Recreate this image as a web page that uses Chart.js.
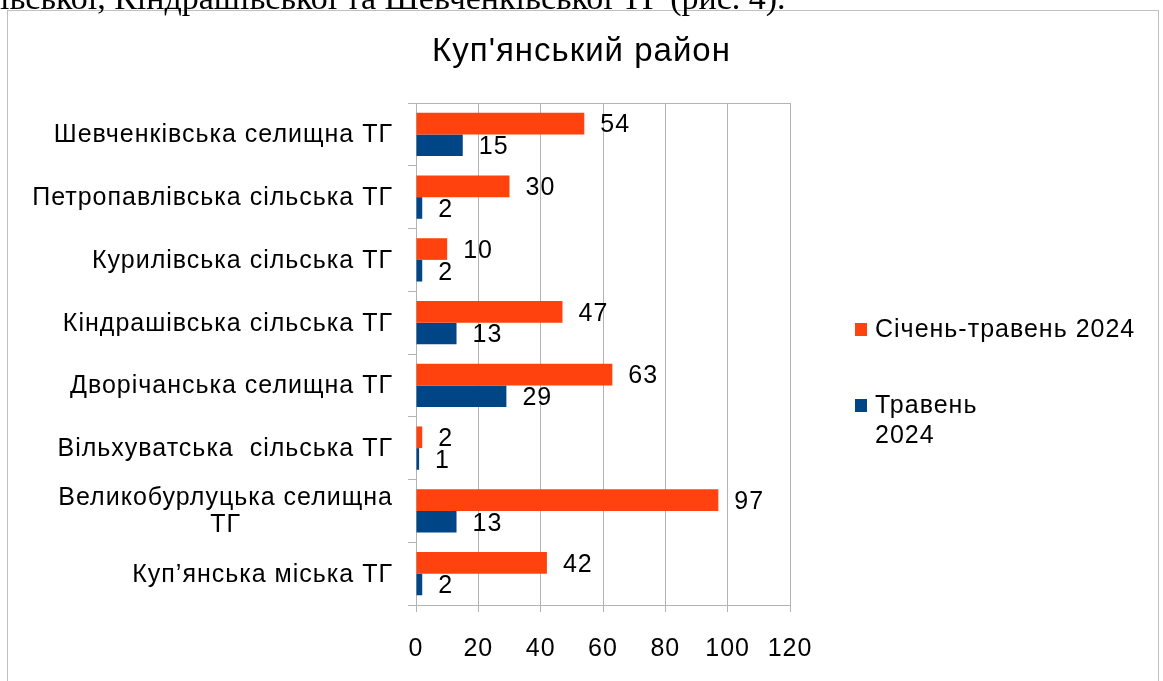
<!DOCTYPE html>
<html><head><meta charset="utf-8">
<script src="https://cdn.jsdelivr.net/npm/chart.js@4.4.1/dist/chart.umd.min.js"></script>
<style>
html,body{margin:0;padding:0;background:#fff;overflow:hidden;width:1163px;height:681px}
#top{position:absolute;left:0;top:-19px;font-family:"Liberation Serif","Times New Roman",serif;font-size:34px;line-height:34px;white-space:nowrap;color:#000;z-index:3}
#box{position:absolute;left:7px;top:10px;width:1150px;height:720px;border:1px solid #c0c0c0;background:#fff;z-index:1}
#wrap{position:absolute;left:0;top:0;width:1163px;height:681px;z-index:2}
</style></head><body>
<div id="top">івської, Кіндрашівської та Шевченківської ТГ (рис. 4).</div>
<div id="box"></div>
<div id="wrap"><canvas id="c" width="1163" height="681"></canvas></div>
<script>
// ---- data ----
const categories = [
  'Шевченківська селищна ТГ',
  'Петропавлівська сільська ТГ',
  'Курилівська сільська ТГ',
  'Кіндрашівська сільська ТГ',
  'Дворічанська селищна ТГ',
  'Вільхуватська  сільська ТГ',
  ['Великобурлуцька селищна', 'ТГ'],
  'Куп’янська міська ТГ'
];
const seriesJanMay = [54, 30, 10, 47, 63, 2, 97, 42];
const seriesMay = [15, 2, 2, 13, 29, 1, 13, 2];
const seriesNames = ['Січень-травень 2024', 'Травень\n2024'];
const xTickValues = [0, 20, 40, 60, 80, 100, 120];
const chartTitle = "Куп'янський район";

// ---- styles ----
const FONT = '"Liberation Sans", Arial, sans-serif';
const GRID = '#b3b3b3';
const COLORS = ['#ff420e', '#004586'];
const FS = 25;

const spacing = {
  id: 'spacing',
  beforeDraw(chart) { chart.ctx.letterSpacing = '1px'; }
};

const valueLabels = {
  id: 'valueLabels',
  afterDatasetsDraw(chart) {
    const ctx = chart.ctx;
    ctx.save();
    ctx.font = FS + 'px ' + FONT;
    ctx.fillStyle = '#000';
    ctx.textAlign = 'left';
    ctx.textBaseline = 'middle';
    chart.data.datasets.forEach((ds, di) => {
      const meta = chart.getDatasetMeta(di);
      meta.data.forEach((el, i) => {
        ctx.fillText(String(ds.data[i]), el.x + 16, el.y + 2);
      });
    });
    ctx.restore();
  }
};

const categoryLabels = {
  id: 'categoryLabels',
  afterDraw(chart) {
    const ctx = chart.ctx;
    const ys = chart.scales.y;
    const right = ys.right - 23;
    const lh = 27;
    ctx.save();
    ctx.font = FS + 'px ' + FONT;
    ctx.fillStyle = '#000';
    ctx.textBaseline = 'middle';
    ctx.textAlign = 'center';
    chart.data.labels.forEach((lab, i) => {
      const lines = Array.isArray(lab) ? lab : [lab];
      const w = Math.max(...lines.map(l => ctx.measureText(l).width));
      const cy = ys.getPixelForTick(i) + 1;
      lines.forEach((l, j) => {
        ctx.fillText(l, right - w / 2, cy + (j - (lines.length - 1) / 2) * lh);
      });
    });
    ctx.restore();
  }
};

const sideLegend = {
  id: 'sideLegend',
  afterDraw(chart) {
    const ctx = chart.ctx;
    const x0 = chart.chartArea.right + 65;
    let y = 330;
    const lh = 30, gap = 76, box = 12;
    ctx.save();
    ctx.font = FS + 'px ' + FONT;
    ctx.textBaseline = 'middle';
    ctx.textAlign = 'left';
    chart.data.datasets.forEach((ds, di) => {
      const lines = seriesNames[di].split('\n');
      ctx.fillStyle = ds.backgroundColor;
      ctx.fillRect(x0, y - box / 2 - 1, box, box + 1);
      ctx.fillStyle = '#000';
      lines.forEach((l, j) => ctx.fillText(l, x0 + 20, y + j * lh));
      y += gap;
    });
    ctx.restore();
  }
};

new Chart(document.getElementById('c'), {
  type: 'bar',
  data: {
    labels: categories,
    datasets: [
      { label: seriesNames[0].replace('\n', ' '), data: seriesJanMay, backgroundColor: COLORS[0], yAxisID: 'y', xAxisID: 'x' },
      { label: seriesNames[1].replace('\n', ' '), data: seriesMay, backgroundColor: COLORS[1], yAxisID: 'y', xAxisID: 'x' }
    ]
  },
  options: {
    indexAxis: 'y',
    responsive: false,
    animation: false,
    events: [],
    layout: { padding: 0 },
    datasets: { bar: { categoryPercentage: 0.69, barPercentage: 1.0 } },
    plugins: {
      legend: { display: false },
      tooltip: { enabled: false },
      title: {
        display: true, text: chartTitle, color: '#000',
        font: { family: FONT, size: 33, weight: 'normal', lineHeight: 1.2 },
        padding: { top: 32, bottom: 31.4 }
      }
    },
    scales: {
      x: {
        type: 'linear', min: 0, max: 120,
        afterBuildTicks(s) { s.ticks = xTickValues.map(v => ({ value: v })); },
        afterFit(s) { s.height = 76; },
        ticks: { color: '#000', font: { family: FONT, size: FS }, padding: 22 },
        grid: { color: GRID, tickLength: 7, lineWidth: 1 },
        border: { color: GRID }
      },
      y: {
        type: 'category', offset: true,
        afterFit(s) { s.width = 416; },
        ticks: { display: false },
        grid: {
          offset: true, tickLength: 8, tickColor: GRID,
          color: c => c.index === 0 ? GRID : 'rgba(0,0,0,0)'
        },
        border: { color: GRID }
      },
      legendSpace: {
        type: 'linear', position: 'right', min: 0, max: 1,
        afterFit(s) { s.width = 373; },
        ticks: { display: false },
        grid: { display: false },
        border: { display: false }
      }
    }
  },
  plugins: [spacing, valueLabels, categoryLabels, sideLegend]
});
</script>
</body></html>
